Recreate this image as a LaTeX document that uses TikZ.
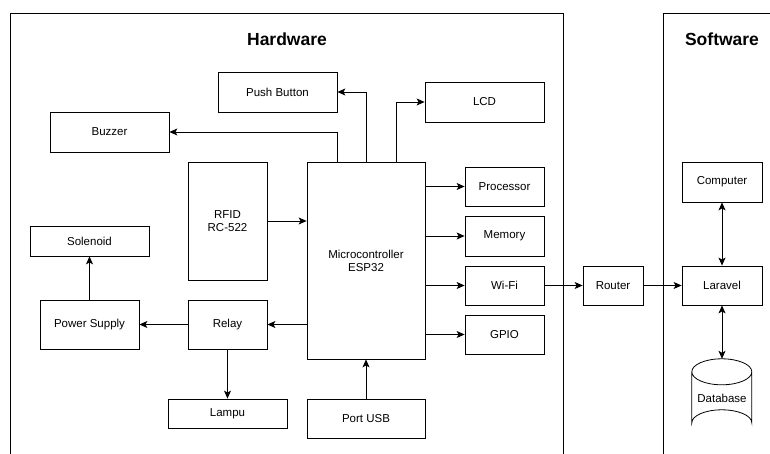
\documentclass[tikz,border=0pt]{standalone}
\usepackage{fontspec}
\setmainfont{Liberation Sans}
\usepackage{tikz}
\usetikzlibrary{positioning,arrows.meta,calc}

\begin{document}
\begin{tikzpicture}[
        x=1pt,
        y=-1pt,
        >=Stealth,
        font=\fontsize{11.5}{13}\selectfont,
        blok/.style={draw=black, line width=0.8pt, inner sep=1pt, align=center},
        judul/.style={font=\fontsize{17.5}{20}\selectfont\bfseries},
        arr/.style={-{Stealth[length=8pt,width=7pt,inset=2pt]}, line width=0.8pt},
        arrs/.style={{Stealth[length=8pt,width=7pt,inset=2pt]}-{Stealth[length=8pt,width=7pt,inset=2pt]}, line width=0.8pt},
        frame/.style={line width=0.9pt}
    ]
        \useasboundingbox (0,0) rectangle (770,454);

        % Bingkai bagian hardware dan software.
        \draw[frame] (10,454) -- (10,13) -- (563,13) -- (563,454);
        \draw[frame] (663,454) -- (663,13) -- (770,13);
        \node[judul] (hwjudul) at (287,39) {Hardware};
        \node[judul] (swjudul) at (722,39) {Software};

        % Blok hardware.
        \node[blok, minimum width=118pt, minimum height=197pt] (mcu) at (366,260.5) {Microcontroller\\ESP32};
        \node[blok, minimum width=119pt, minimum height=40pt] (push) at (277.5,92) {Push Button};
        \node[blok, minimum width=119pt, minimum height=40pt] (buzzer) at (109.5,132) {Buzzer};
        \node[blok, minimum width=119pt, minimum height=40pt] (lcd) at (484.5,102) {LCD};
        \node[blok, minimum width=79pt, minimum height=118pt] (rfid) at (227.5,221) {RFID\\RC-522};
        \node[blok, minimum width=79pt, minimum height=39pt] (proc) at (504.5,186.5) {Processor};
        \node[blok, minimum width=79pt, minimum height=40pt] (mem) at (504.5,236) {Memory};
        \node[blok, minimum width=79pt, minimum height=39pt] (wifi) at (504.5,285.5) {Wi-Fi};
        \node[blok, minimum width=79pt, minimum height=39pt] (gpio) at (504.5,334.5) {GPIO};
        \node[blok, minimum width=119pt, minimum height=30pt] (solenoid) at (89.5,241) {Solenoid};
        \node[blok, minimum width=99pt, minimum height=49pt] (power) at (89.5,324.5) {Power Supply};
        \node[blok, minimum width=79pt, minimum height=49pt] (relay) at (227.5,324.5) {Relay};
        \node[blok, minimum width=119pt, minimum height=29pt] (lampu) at (227.5,413.5) {Lampu};
        \node[blok, minimum width=118pt, minimum height=39pt] (usb) at (366,418.5) {Port USB};

        % Jaringan dan software.
        \node[blok, minimum width=60pt, minimum height=39pt] (router) at (613,285.5) {Router};
        \node[blok, minimum width=80pt, minimum height=39pt] (laravel) at (722,285.5) {Laravel};
        \node[blok, minimum width=80pt, minimum height=40pt] (komputer) at (722,182) {Computer};
        \node[inner sep=0pt, minimum width=60pt, minimum height=78pt] (db) at (722,398) {Database};
        \draw[line width=0.8pt] (db.north west) ++(0,13) arc[start angle=180, end angle=-180, x radius=30, y radius=13]
            -- ++(0,51) arc[start angle=180, end angle=360, x radius=30, y radius=13] -- ++(0,-51);

        % Koneksi dari mikrokontroler.
        \draw[arr] (mcu.north) |- (push.east);
        \draw[arr] ([xshift=-29pt]mcu.north) |- (buzzer.east);
        \draw[arr] ([xshift=30pt]mcu.north) |- (lcd.west);
        \draw[arr] (rfid.east) -- (rfid.east -| mcu.west);
        \draw[arr] (proc.west -| mcu.east) -- (proc.west);
        \draw[arr] (mem.west -| mcu.east) -- (mem.west);
        \draw[arr] (wifi.west -| mcu.east) -- (wifi.west);
        \draw[arr] (gpio.west -| mcu.east) -- (gpio.west);
        \draw[arr] (relay.east -| mcu.west) -- (relay.east);
        \draw[arr] (relay.west) -- (power.east);
        \draw[arr] (relay.south) -- (lampu.north);
        \draw[arr] (power.north) -- (solenoid.south);
        \draw[arr] (usb.north) -- (mcu.south);

        \draw[arr] (wifi.east) -- (router.west);
        \draw[arr] (router.east) -- (laravel.west);
        \draw[arrs] (komputer.south) -- (laravel.north);
        \draw[arrs] (laravel.south) -- (db.north);
    \end{tikzpicture}
\end{document}
